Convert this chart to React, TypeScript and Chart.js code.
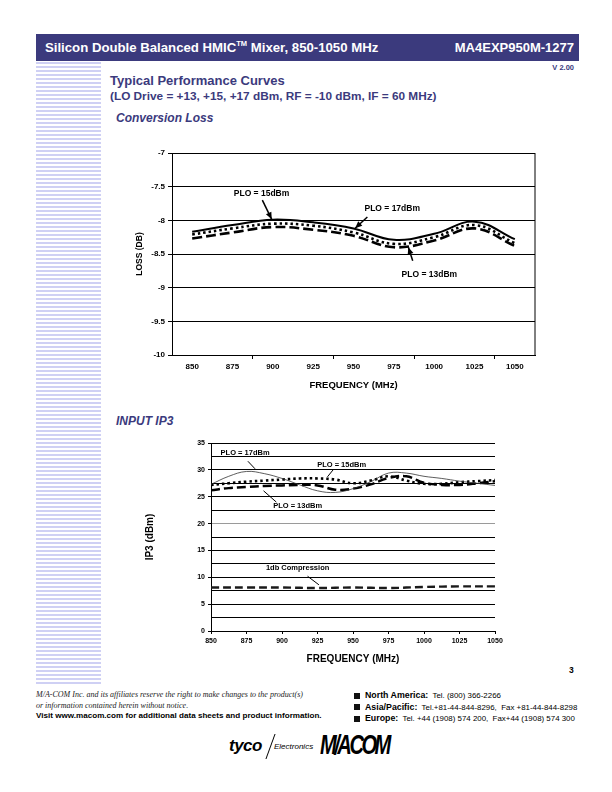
import React, { useEffect, useRef } from "react";
import { Chart, registerables } from "chart.js";
Chart.register(...registerables);

const FONT = "'Liberation Sans', Arial, Helvetica, sans-serif";
const SERIF = "'Liberation Serif', 'Times New Roman', serif";
const NAVY = "#3b3a7d";

// ---------- Conversion loss data ----------
const lossFreq = ["850", "875", "900", "925", "950", "975", "1000", "1025", "1050"];
const lossPlo17 = [-8.17, -8.07, -7.99, -8.03, -8.12, -8.29, -8.2, -8.02, -8.28];
const lossPlo15 = [-8.21, -8.12, -8.05, -8.08, -8.18, -8.35, -8.25, -8.07, -8.34];
const lossPlo13 = [-8.27, -8.18, -8.1, -8.14, -8.23, -8.4, -8.3, -8.12, -8.38];

const lossNoteText = ["PLO = 15dBm", "PLO = 17dBm", "PLO = 13dBm"];
const lossNoteX = [893, 974, 997];
const lossNoteY = [-7.61, -7.83, -8.8];
const lossArrowFromX = [893.5, 958.6, 986.7];
const lossArrowFromY = [-7.7, -7.95, -8.6];
const lossArrowToX = [899.3, 951, 984];
const lossArrowToY = [-7.985, -8.118, -8.4];

// ---------- Input IP3 data ----------
const ip3Freq = [850, 862.5, 875, 887.5, 900, 912.5, 925, 937.5, 950, 962.5, 975, 987.5, 1000, 1012.5, 1025, 1037.5, 1050];
const ip3Plo17 = [27.3, 28.8, 29.7, 29.3, 28.4, 27.2, 26.1, 25.8, 26.5, 27.8, 29.4, 29.4, 28.8, 28.4, 27.9, 27.5, 27.1];
const ip3Plo15 = [27.2, 27.5, 27.8, 28.0, 28.2, 28.4, 28.4, 28.2, 27.5, 28.0, 28.8, 28.0, 27.4, 27.4, 27.7, 27.9, 28.1];
const ip3Plo13 = [26.2, 26.6, 26.8, 27.0, 27.1, 27.2, 27.1, 26.3, 26.5, 27.3, 28.5, 28.8, 27.6, 27.2, 27.2, 27.5, 27.9];
const compFreq = [850, 875, 900, 925, 950, 975, 1000, 1025, 1050];
const compValues = [8.1, 8.1, 8.1, 8.0, 8.1, 8.0, 8.2, 8.3, 8.3];

const ip3NoteText = ["PLO = 17dBm", "PLO = 15dBm", "PLO = 13dBm", "1db Compression"];
const ip3NoteX = [874, 942, 911, 911];
const ip3NoteY = [33.1, 30.9, 23.3, 11.7];
const ip3LineFromX = [876, 936, 896, 918];
const ip3LineFromY = [31.6, 30.0, 24.0, 10.2];
const ip3LineToX = [881, 932, 887, 926];
const ip3LineToY = [30.2, 28.7, 26.1, 8.6];

type Note = { text: string; x: number; y: number; fx: number; fy: number; tx: number; ty: number };

function makeNotesPlugin(id: string, notes: Note[], xVal: (f: number) => number, head: boolean, fontPx: number) {
  return {
    id,
    afterDatasetsDraw(chart: any) {
      const { ctx, scales } = chart;
      const xs = scales.x;
      const ys = scales.y;
      ctx.save();
      ctx.fillStyle = "#000";
      ctx.strokeStyle = "#000";
      ctx.font = `bold ${fontPx}px ${FONT}`;
      ctx.textAlign = "center";
      ctx.textBaseline = "middle";
      for (const n of notes) {
        ctx.fillText(n.text, xs.getPixelForValue(xVal(n.x)), ys.getPixelForValue(n.y));
        const x1 = xs.getPixelForValue(xVal(n.fx));
        const y1 = ys.getPixelForValue(n.fy);
        const x2 = xs.getPixelForValue(xVal(n.tx));
        const y2 = ys.getPixelForValue(n.ty);
        ctx.lineWidth = head ? 1.5 : 1;
        ctx.beginPath();
        ctx.moveTo(x1, y1);
        ctx.lineTo(x2, y2);
        ctx.stroke();
        if (head) {
          const a = Math.atan2(y2 - y1, x2 - x1);
          const L = 7, W = 3;
          ctx.beginPath();
          ctx.moveTo(x2, y2);
          ctx.lineTo(x2 - L * Math.cos(a) + W * Math.sin(a), y2 - L * Math.sin(a) - W * Math.cos(a));
          ctx.lineTo(x2 - L * Math.cos(a) - W * Math.sin(a), y2 - L * Math.sin(a) + W * Math.cos(a));
          ctx.closePath();
          ctx.fill();
        }
      }
      ctx.restore();
    },
  };
}

const rightBorder = {
  id: "rightBorder",
  afterDraw(chart: any) {
    const { ctx, chartArea } = chart;
    ctx.save();
    ctx.strokeStyle = "#000";
    ctx.lineWidth = 1;
    ctx.beginPath();
    ctx.moveTo(chartArea.right, chartArea.top);
    ctx.lineTo(chartArea.right, chartArea.bottom);
    ctx.stroke();
    ctx.restore();
  },
};

function LossChart() {
  const ref = useRef<HTMLCanvasElement>(null);
  useEffect(() => {
    const notes: Note[] = lossNoteText.map((t, i) => ({
      text: t, x: lossNoteX[i], y: lossNoteY[i],
      fx: lossArrowFromX[i], fy: lossArrowFromY[i], tx: lossArrowToX[i], ty: lossArrowToY[i],
    }));
    const chart = new Chart(ref.current!, {
      type: "line",
      data: {
        labels: lossFreq,
        datasets: [
          { label: "PLO = 13dBm", data: lossPlo13, borderColor: "#000", borderWidth: 2.6, borderDash: [10, 4], pointRadius: 0, tension: 0.4, fill: false },
          { label: "PLO = 15dBm", data: lossPlo15, borderColor: "#000", borderWidth: 2.6, borderDash: [2.5, 3], pointRadius: 0, tension: 0.4, fill: false },
          { label: "PLO = 17dBm", data: lossPlo17, borderColor: "#000", borderWidth: 2, pointRadius: 0, tension: 0.4, fill: false },
        ],
      },
      options: {
        animation: false,
        responsive: false,
        maintainAspectRatio: false,
        layout: { padding: { top: 8, right: 10, left: 0, bottom: 0 } },
        plugins: { legend: { display: false }, tooltip: { enabled: false } },
        scales: {
          x: {
            type: "category",
            offset: true,
            afterFit: (s: any) => { s.height = 40; },
            grid: {
              offset: true,
              drawOnChartArea: false,
              tickLength: 4,
              color: (c: any) => (c.index > 0 && c.index % 2 === 0 ? "#000" : "rgba(0,0,0,0)"),
            },
            border: { display: true, color: "#000", width: 1 },
            ticks: { color: "#000", font: { family: FONT, size: 8, weight: "bold" }, padding: 3, maxRotation: 0, autoSkip: false },
            title: { display: true, text: "FREQUENCY (MHz)", color: "#000", font: { family: FONT, size: 9.5, weight: "bold" }, padding: { top: 0, bottom: 4 } },
          },
          y: {
            min: -10,
            max: -7,
            afterFit: (s: any) => { s.width = 42; },
            grid: { color: "#000", lineWidth: 1, tickLength: 4 },
            border: { display: true, color: "#000", width: 1 },
            ticks: { stepSize: 0.5, color: "#000", font: { family: FONT, size: 8, weight: "bold" }, padding: 3, callback: (v: any) => String(v) },
            title: { display: true, text: "LOSS (DB)", color: "#000", font: { family: FONT, size: 8.5, weight: "bold" }, padding: { top: 5, bottom: 0 } },
          },
        },
      },
      plugins: [rightBorder, makeNotesPlugin("lossNotes", notes, (f) => (f - 850) / 25, true, 8.5)],
    } as any);
    return () => chart.destroy();
  }, []);
  return <canvas ref={ref} width={415} height={250} style={{ position: "absolute", left: 130, top: 145, width: 415, height: 250 }} />;
}

function Ip3Chart() {
  const ref = useRef<HTMLCanvasElement>(null);
  useEffect(() => {
    const notes: Note[] = ip3NoteText.map((t, i) => ({
      text: t, x: ip3NoteX[i], y: ip3NoteY[i],
      fx: ip3LineFromX[i], fy: ip3LineFromY[i], tx: ip3LineToX[i], ty: ip3LineToY[i],
    }));
    const pts = (ys: number[], xs: number[]) => ys.map((y, i) => ({ x: xs[i], y }));
    const chart = new Chart(ref.current!, {
      type: "line",
      data: {
        datasets: [
          { label: "1db Compression", data: pts(compValues, compFreq), borderColor: "#1a1a1a", borderWidth: 2.4, borderDash: [8, 4], pointRadius: 0, tension: 0.4 },
          { label: "PLO = 17dBm", data: pts(ip3Plo17, ip3Freq), borderColor: "#333", borderWidth: 0.8, pointRadius: 0, tension: 0.4 },
          { label: "PLO = 13dBm", data: pts(ip3Plo13, ip3Freq), borderColor: "#000", borderWidth: 2.5, borderDash: [9, 4], pointRadius: 0, tension: 0.4 },
          { label: "PLO = 15dBm", data: pts(ip3Plo15, ip3Freq), borderColor: "#000", borderWidth: 2.6, borderDash: [2.5, 3], pointRadius: 0, tension: 0.4 },
        ],
      },
      options: {
        animation: false,
        responsive: false,
        maintainAspectRatio: false,
        layout: { padding: { top: 8, right: 15, left: 0, bottom: 0 } },
        plugins: { legend: { display: false }, tooltip: { enabled: false } },
        scales: {
          x: {
            type: "linear",
            min: 850,
            max: 1050,
            afterFit: (s: any) => { s.height = 39; },
            grid: { drawOnChartArea: false, tickLength: 3, color: "#000" },
            border: { display: true, color: "#000", width: 1 },
            ticks: { stepSize: 25, color: "#000", font: { family: FONT, size: 7, weight: "bold" }, padding: 3, maxRotation: 0, autoSkip: false, callback: (v: any) => String(v) },
            title: { display: true, text: "FREQUENCY (MHz)", color: "#000", font: { family: FONT, size: 10, weight: "bold" }, padding: { top: 0, bottom: 5 } },
          },
          y: {
            min: 0,
            max: 35,
            afterFit: (s: any) => { s.width = 81; },
            grid: {
              color: (c: any) => (c.tick && c.tick.value === 20 ? "#9a9a9a" : "#000"),
              tickColor: (c: any) => (c.tick && c.tick.value % 5 === 0 ? "#000" : "rgba(0,0,0,0)"),
              lineWidth: 1,
              tickLength: 3,
            },
            border: { display: true, color: "#000", width: 1 },
            ticks: { stepSize: 2.5, autoSkip: false, color: "#000", font: { family: FONT, size: 7, weight: "bold" }, padding: 3, callback: (v: any) => (Number(v) % 5 === 0 ? String(v) : "") },
            title: { display: true, text: "IP3 (dBm)", color: "#000", font: { family: FONT, size: 10, weight: "bold" }, padding: { top: 14, bottom: 0 } },
          },
        },
      },
      plugins: [makeNotesPlugin("ip3Notes", notes, (f) => f, false, 7.5)],
    } as any);
    return () => chart.destroy();
  }, []);
  return <canvas ref={ref} width={380} height={235} style={{ position: "absolute", left: 130, top: 435, width: 380, height: 235 }} />;
}

function Stripes() {
  const rows = [];
  for (let y = 62; y < 684; y += 4) rows.push(y);
  return (
    <>
      {rows.map((y) => (
        <div key={y} style={{ position: "absolute", left: 36, top: y, width: 65, height: 2, background: "#cfd0f4" }} />
      ))}
    </>
  );
}

const abs = (s: React.CSSProperties): React.CSSProperties => ({ position: "absolute", whiteSpace: "nowrap", ...s });

export default function App() {
  return (
    <div style={{ position: "absolute", left: 0, top: 0, width: 612, height: 792, background: "#fff", fontFamily: FONT, overflow: "hidden" }}>
      <div style={abs({ left: 36, top: 34, width: 543, height: 27, background: NAVY })} />
      <div style={abs({ left: 45, top: 34, height: 27, lineHeight: "27px", color: "#fff", fontWeight: "bold", fontSize: 13.2 })}>
        Silicon Double Balanced HMIC<sup style={{ fontSize: 7.5, verticalAlign: "top", lineHeight: "20px" }}>TM</sup> Mixer, 850-1050 MHz
      </div>
      <div style={abs({ right: 612 - 574, top: 34, height: 27, lineHeight: "27px", color: "#fff", fontWeight: "bold", fontSize: 13 })}>
        MA4EXP950M-1277
      </div>
      <Stripes />
      <div style={abs({ right: 612 - 574, top: 63, fontSize: 7.5, fontWeight: "bold", color: NAVY })}>V 2.00</div>
      <div style={abs({ left: 110, top: 73, fontSize: 13, fontWeight: "bold", color: NAVY })}>Typical Performance Curves</div>
      <div style={abs({ left: 110, top: 89, fontSize: 11.8, fontWeight: "bold", color: NAVY })}>(LO Drive = +13, +15, +17 dBm, RF = -10 dBm, IF = 60 MHz)</div>
      <div style={abs({ left: 116, top: 111, fontSize: 12, fontWeight: "bold", fontStyle: "italic", color: NAVY })}>Conversion Loss</div>
      <LossChart />
      <div style={abs({ left: 116, top: 414, fontSize: 12, fontWeight: "bold", fontStyle: "italic", color: NAVY })}>INPUT IP3</div>
      <Ip3Chart />
      <div style={abs({ left: 569, top: 665, fontSize: 8.5, fontWeight: "bold", color: "#000" })}>3</div>

      <div style={abs({ left: 36, top: 689, fontFamily: SERIF, fontStyle: "italic", fontSize: 8, color: "#222", lineHeight: "11px" })}>
        M/A-COM Inc. and its affiliates reserve the right to make changes to the product(s)
        <br />
        or information contained herein without notice.
      </div>
      <div style={abs({ left: 36, top: 711, fontSize: 8.1, fontWeight: "bold", color: "#000" })}>
        Visit www.macom.com for additional data sheets and product information.
      </div>

      {[
        ["North America:", "Tel. (800) 366-2266"],
        ["Asia/Pacific:", "Tel.+81-44-844-8296,  Fax +81-44-844-8298"],
        ["Europe:", "Tel. +44 (1908) 574 200,  Fax+44 (1908) 574 300"],
      ].map(([a, b], i) => (
        <div key={a} style={abs({ left: 354, top: 687 + i * 11.5, height: 11, lineHeight: "11px", color: "#000" })}>
          <span style={{ display: "inline-block", width: 6, height: 6, background: "#111", marginRight: 5, verticalAlign: "-0.5px" }} />
          <span style={{ fontWeight: "bold", fontSize: 8.8 }}>{a}</span>
          <span style={{ fontSize: 7.9, whiteSpace: "pre" }}>{"  " + b}</span>
        </div>
      ))}

      <div style={abs({ left: 229, top: 736, fontSize: 17, fontWeight: 900, fontStyle: "italic", color: "#000", letterSpacing: -0.5 })}>tyco</div>
      <div style={abs({ left: 270, top: 734, width: 1, height: 25, background: "#000", transform: "skewX(-20deg)" })} />
      <div style={abs({ left: 274, top: 742, fontSize: 8, fontStyle: "italic", color: "#000" })}>Electronics</div>
      <div style={abs({ left: 320, top: 729, fontSize: 28, fontWeight: 900, fontStyle: "italic", color: "#000", letterSpacing: -3.5, transform: "scaleX(0.72)", transformOrigin: "left" })}>M/ACOM</div>
    </div>
  );
}
